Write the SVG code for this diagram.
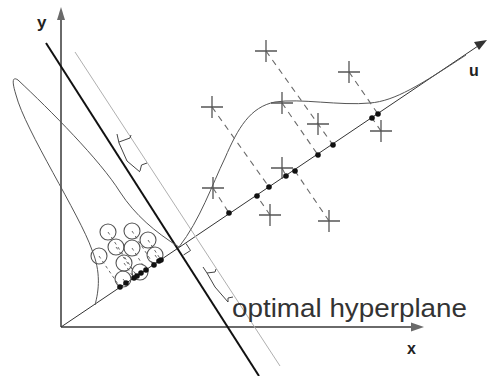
<svg xmlns="http://www.w3.org/2000/svg" width="488" height="376" viewBox="0 0 488 376">
<style>
.axis{stroke:#6a6a6a;stroke-width:2;fill:none}
.uline{stroke:#333;stroke-width:1;fill:none}
.cross{stroke:#555;stroke-width:1.3;fill:none}
.dash{stroke:#6a6a6a;stroke-width:1.1;stroke-dasharray:6 5;fill:none}
.cdash{stroke:#6a6a6a;stroke-width:1;stroke-dasharray:3 3;fill:none}
.curve{stroke:#555;stroke-width:1;fill:none}
.circ{stroke:#555;stroke-width:1.1;fill:none}
.dot{fill:#111}
.lbl{font-family:"Liberation Sans",Arial,sans-serif;font-weight:bold;fill:#222}
.mark{stroke:#444;stroke-width:1;fill:none}
</style>
<rect width="488" height="376" fill="#fff"/>
<g id="axes">
<line class="axis" x1="61" y1="327" x2="61" y2="18"/>
<polygon points="61,7 57,20 65,20" fill="#6a6a6a"/>
<line class="axis" x1="61" y1="327" x2="412" y2="327"/>
<polygon points="424,327 411,322.5 411,331.5" fill="#6a6a6a"/>
<line class="uline" x1="61" y1="327" x2="478" y2="46"/>
<polygon points="487,40 474,42 479,50" fill="#333"/>
<text class="lbl" x="37" y="28" font-size="17">y</text>
<text class="lbl" x="407" y="354" font-size="16">x</text>
<text class="lbl" x="469" y="76" font-size="16">u</text>
</g>
<g id="hyperplane">
<line x1="75" y1="52" x2="280" y2="366" stroke="#b0b0b0" stroke-width="1"/>
<line x1="46" y1="43" x2="259" y2="376" stroke="#111" stroke-width="2"/>
<path class="mark" d="M186,243.5 L190.5,250.5 L183.5,255"/>
<path class="mark" d="M117,134 L119,143 L127,161 L140,172 M119,142 L130,138 L131,135 M140,171 L141.5,165 L147,163"/>
<path class="mark" d="M203,267 L207,273 L215,287 L228,302 M207,273 L215,272 L216,269 M228,302 L228,298 L233,297"/>
<text x="232" y="317" font-family="'Liberation Sans',Arial,sans-serif" font-size="26" fill="#333" textLength="235" lengthAdjust="spacingAndGlyphs">optimal hyperplane</text>
</g>
<g id="curves">
<path class="curve" d="M95,305 C99,290 101,272 92,250 C80,215 25,130 16,95 C12,82 12,76 18,80 C50,110 100,160 120,192 C135,215 155,232 179,247"/>
<path class="curve" stroke-width="1.2" d="M179,247 C200,220 212,185 225,158 C238,128 250,107 275,102 C300,98 340,106 370,103 C395,101 420,85 466,55"/>
</g>
<g id="connectors">
<line class="dash" x1="266" y1="51" x2="333" y2="145"/>
<line class="dash" x1="349" y1="72" x2="378" y2="114"/>
<line class="dash" x1="212" y1="107" x2="269" y2="187"/>
<line class="dash" x1="282" y1="103" x2="318" y2="155"/>
<line class="dash" x1="381" y1="131" x2="372" y2="118"/>
<line class="dash" x1="213" y1="188" x2="229" y2="213"/>
<line class="dash" x1="282" y1="168" x2="286" y2="176"/>
<line class="dash" x1="270" y1="215" x2="257" y2="196"/>
<line class="dash" x1="329" y1="221" x2="295" y2="171"/>
<line class="cdash" x1="99" y1="256" x2="120" y2="287"/>
<line class="cdash" x1="123" y1="279" x2="126" y2="283"/>
<line class="cdash" x1="124" y1="263" x2="134" y2="278"/>
<line class="cdash" x1="116" y1="247" x2="137" y2="276"/>
<line class="cdash" x1="108" y1="232" x2="137" y2="276"/>
<line class="cdash" x1="140" y1="272" x2="141" y2="273"/>
<line class="cdash" x1="132" y1="248" x2="146" y2="270"/>
<line class="cdash" x1="132" y1="231" x2="154" y2="265"/>
<line class="cdash" x1="155" y1="255" x2="159" y2="261"/>
<line class="cdash" x1="148" y1="240" x2="161" y2="260"/>
</g>
<g id="crosses">
<path id="c1" class="cross" d="M255,51 H277 M266,40 V62"/>
<path id="c2" class="cross" d="M338,72 H360 M349,61 V83"/>
<path id="c3" class="cross" d="M201,107 H223 M212,96 V118"/>
<path id="c4" class="cross" d="M271,103 H293 M282,92 V114"/>
<path id="c5" class="cross" d="M307,124 H329 M318,113 V135"/>
<path id="c6" class="cross" d="M370,131 H392 M381,120 V142"/>
<path id="c7" class="cross" d="M202,188 H224 M213,177 V199"/>
<path id="c8" class="cross" d="M271,168 H293 M282,157 V179"/>
<path id="c9" class="cross" d="M259,215 H281 M270,204 V226"/>
<path id="c10" class="cross" d="M318,221 H340 M329,210 V232"/>
</g>
<g id="circles">
<circle class="circ" cx="108" cy="232" r="8"/>
<circle class="circ" cx="132" cy="231" r="8"/>
<circle class="circ" cx="116" cy="247" r="8"/>
<circle class="circ" cx="132" cy="248" r="8"/>
<circle class="circ" cx="148" cy="240" r="8"/>
<circle class="circ" cx="99" cy="256" r="8"/>
<circle class="circ" cx="124" cy="263" r="8"/>
<circle class="circ" cx="155" cy="255" r="8"/>
<circle class="circ" cx="123" cy="279" r="8"/>
<circle class="circ" cx="140" cy="272" r="8"/>
</g>
<g id="dots">
<circle class="dot" cx="120" cy="287" r="2.8"/>
<circle class="dot" cx="126" cy="283" r="2.8"/>
<circle class="dot" cx="134" cy="278" r="2.8"/>
<circle class="dot" cx="137" cy="276" r="2.8"/>
<circle class="dot" cx="141" cy="273" r="2.8"/>
<circle class="dot" cx="146" cy="270" r="2.8"/>
<circle class="dot" cx="154" cy="265" r="2.8"/>
<circle class="dot" cx="159" cy="261" r="2.8"/>
<circle class="dot" cx="161" cy="260" r="2.8"/>
<circle class="dot" cx="229" cy="213" r="2.8"/>
<circle class="dot" cx="257" cy="196" r="2.8"/>
<circle class="dot" cx="269" cy="187" r="2.8"/>
<circle class="dot" cx="286" cy="176" r="2.8"/>
<circle class="dot" cx="295" cy="171" r="2.8"/>
<circle class="dot" cx="318" cy="155" r="2.8"/>
<circle class="dot" cx="333" cy="145" r="2.8"/>
<circle class="dot" cx="372" cy="118" r="2.8"/>
<circle class="dot" cx="378" cy="114" r="2.8"/>
</g>
</svg>
